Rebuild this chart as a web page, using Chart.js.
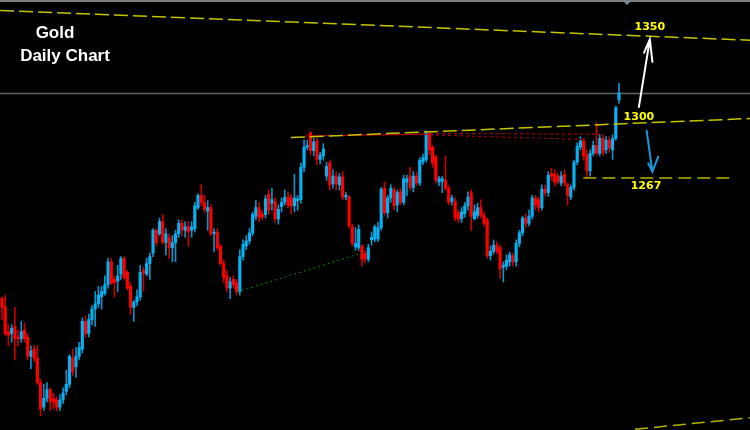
<!DOCTYPE html>
<html><head><meta charset="utf-8">
<script src="https://cdn.jsdelivr.net/npm/chart.js@4.4.0/dist/chart.umd.min.js"></script>
<style>html,body{margin:0;padding:0;background:#000;}canvas{display:block;}</style>
</head><body>
<canvas id="c" width="750" height="430"></canvas>
<script>
// Daily gold candles (price, USD/oz), oldest first
const opens = [
1198,1193,1179,1178,1182,1176,1175,1180,1176,1165,
1169,1164,1150,1136,1141,1146,1141,1140,1136,1140,
1145,1149,1164,1159,1165,1169,1185,1178,1186,1192,
1195,1199,1201,1206,1219,1209,1208,1212,1221,1213,
1205,1193,1196,1199,1214,1212,1218,1224,1237,1235,
1242,1230,1233,1227,1230,1235,1241,1237,1239,1237,
1238,1250,1257,1253,1248,1250,1235,1236,1228,1218,
1211,1204,1209,1207,1202,1222,1228,1231,1235.5,1245,
1250,1246.5,1246,1257.5,1252.5,1253.5,1243.5,1250.5,1253,1256,
1255.5,1251,1254,1254.5,1273,1284.5,1292.5,1282.5,1288,1277.5,
1279.5,1268,1275.5,1263.5,1268,1263,1267.5,1256,1256,1239,
1227.5,1227,1228,1224,1220.5,1231.5,1232,1232,1238.5,1261,
1247,1255.5,1260,1251.5,1259,1253,1264.5,1268,1261.5,1268,
1264,1276,1277.5,1292,1284.5,1279,1264.5,1265,1265.5,1261,
1253.5,1253.5,1247,1243.5,1246.5,1251,1258.5,1243.5,1245.5,1250,
1245.5,1243,1222.5,1225,1228.5,1227,1216,1216.5,1219,1222.5,
1219,1229.5,1235.5,1244,1241,1245,1255.5,1254.5,1250,1260.5,
1258.5,1269.5,1269,1268,1264,1269,1263,1256,1261.5,1276,
1284.5,1288,1280,1271,1281,1285.5,1281,1289.5,1283,1288.5,
1283,1289.5,1311.5];
const highs = [
1199,1200,1183,1183,1193,1180,1185,1184,1178,1171,
1171,1171,1152,1149,1150,1147,1144,1142,1143,1147,
1157,1166,1169,1170,1173,1187,1188,1189,1194,1202,
1205,1205,1211,1221,1221,1211,1217,1222,1222,1214,
1207,1197,1203,1217,1216,1221,1224,1238,1238,1244,
1246,1238,1235,1234,1237,1243,1243,1242,1242,1242,
1253,1258,1263,1257,1254,1251.5,1238,1238,1229,1220,
1214,1210,1211,1209,1226,1231.5,1234,1238,1247.5,1254,
1253,1248.5,1257,1260,1261,1255.5,1251.5,1255.5,1260,1259,
1257.5,1269,1257,1275.5,1288.5,1288.5,1293.5,1289.5,1289.5,1281.5,
1286.5,1276,1277,1271.5,1270.5,1269.5,1270.5,1258.5,1257,1240.5,
1238.5,1240,1229,1225.5,1229,1236,1240,1241.5,1261.5,1264.5,
1257,1263,1261.5,1260,1261,1268.5,1268.5,1273,1270.5,1270.5,
1278.5,1280.5,1294,1293.5,1285.5,1280,1268,1268,1279.5,1262.5,
1257,1255.5,1248.5,1250,1253,1259,1260,1251.5,1252.5,1254.5,
1247.5,1244,1228,1231.5,1230.5,1228.5,1219,1223,1224.5,1224,
1231.5,1237,1245,1246.5,1248.5,1257,1257,1256,1263,1263,
1270.5,1272.5,1271.5,1269.5,1270.5,1271.5,1264,1263,1277,1287,
1290.5,1289.5,1283,1283,1288,1298.5,1291.5,1291.5,1290.5,1290.5,
1291.5,1308,1321];
const lows = [
1186,1177,1171,1173,1163,1171,1173,1173,1163,1158,
1162,1149,1131,1134,1139,1134,1135,1134,1134,1138,
1143,1147,1154,1153,1163,1167,1176,1176,1183,1182,
1193,1192,1200,1204,1206,1199,1202,1209,1209,1203,
1189,1185,1194,1197,1202,1211,1209,1222,1228,1234,
1229,1223,1221,1219,1219,1233,1234,1233,1228,1233,
1236,1249,1251,1247,1237,1234,1225,1226,1217,1207,
1202,1198,1204,1200,1200,1220,1226,1229,1234,1243,
1242,1243,1244,1246,1248.5,1241.5,1240.5,1247.5,1251.5,1250,
1246.5,1247.5,1248.5,1252.5,1270.5,1283,1280,1279.5,1274.5,1275,
1277,1265.5,1260,1261,1260,1260,1254.5,1254.5,1238.5,1228,
1225.5,1225.5,1216.5,1218.5,1219,1228.5,1230.5,1230.5,1237,1245.5,
1244,1253,1248.5,1247.5,1251.5,1251.5,1257,1260,1259,1262.5,
1262.5,1274.5,1276,1280,1273,1264,1262.5,1258.5,1260,1251.5,
1251.5,1242.5,1241.5,1241.5,1244.5,1248.5,1237,1243,1244,1244,
1239.5,1221,1220,1223.5,1223.5,1209.5,1207.5,1214.5,1216.5,1216.5,
1216.5,1227.5,1234,1238.5,1239.5,1243.5,1248.5,1247.5,1248.5,1256.5,
1256.5,1265.5,1262.5,1263.5,1262.5,1262.5,1251.5,1254.5,1260,1274.5,
1283,1277,1267,1268,1279.5,1280,1279.5,1280,1281,1281.5,
1277.5,1288.5,1309.5];
const closes = [
1193,1178,1177,1181,1175,1175,1179,1175,1165,1168,
1164,1150,1135,1141,1146,1139,1139,1136,1140,1144,
1149,1165,1156,1165,1170,1185,1178,1186,1192,1195,
1200,1202,1206,1219,1207,1207,1211,1221,1210,1204,
1193,1196,1199,1213,1212.5,1218,1222,1237,1230,1242,
1230,1235,1227,1230,1235,1241,1237,1239,1236,1239,
1251,1257,1253,1249,1250,1235,1236,1227,1218,1210,
1204,1207.5,1206,1202,1222,1229,1231,1235.5,1246,1250,
1244.5,1244.5,1255,1248.5,1254.5,1243.5,1249,1253,1256,1251.5,
1251,1255.5,1255,1273,1284.5,1285.5,1282.5,1287.5,1277.5,1280,
1283.5,1273.5,1263,1268,1263.5,1267.5,1256,1257,1239.5,1229.5,
1229.5,1237.5,1220.5,1220.5,1227,1233,1239,1238.5,1260.5,1247,
1255.5,1261,1251,1258.5,1253,1266.5,1266.5,1261.5,1268,1264,
1277,1278.5,1293,1283,1275.5,1265.5,1266.5,1266.5,1261,1253,
1255.5,1244,1243.5,1247.5,1251,1256,1245,1247.5,1250,1245.5,
1241,1222.5,1225,1228.5,1225,1215,1217,1220,1223,1219,
1229.5,1235.5,1244,1241,1245,1255.5,1251.5,1250,1260.5,1258.5,
1268.5,1268,1264.5,1265,1268,1264,1257,1261.5,1276,1285,
1288,1279.5,1271,1281,1285.5,1281,1289.5,1281.5,1288.5,1284,
1289.5,1307,1315.5];

const currentPrice = 1315.6;

// Drawn studies: [bar index, price] anchor pairs
const upperChannel = [[-0.6, 1362.6], [232.8, 1345.6]];
const midLine      = [[89.9, 1290.0], [232.8, 1300.9]];
const supportLine  = [[180.9, 1266.9], [227.5, 1266.9]];
const lowerChannel = [[197.0, 1123.3], [232.8, 1129.9]];
const redTop       = [[94.3, 1290.9], [132.5, 1292.0]];
const redDot1      = [[133.2, 1292.4], [186.1, 1291.9]];
const redDot2      = [[133.2, 1291.5], [180.5, 1288.9]];
const greenDot     = [[73.1, 1201.7], [113.0, 1224.6]];
const upArrow      = [[198.2, 1307.5], [201.6, 1346.1], [199.8, 1338.5], [202.4, 1333.3]];
const downArrow    = [[200.6, 1293.9], [202.4, 1270.5], [201.1, 1275.3], [204.2, 1279.1]];
const levelLabels  = ['1350', '1300', '1267'];
const levelLabelAt = [[201.6, 1352.9], [198.2, 1301.7], [200.4, 1262.0]];
const titleLines   = ['Gold', 'Daily Chart'];

const BLUE = '#06b2f2', RED = '#ff0000';
const BLUE_W = '#0a94cc', RED_W = '#cc0000';

const bull = opens.map((o, i) => closes[i] >= o);
const wickData = opens.map((o, i) => ({x: i, y: [lows[i], highs[i]]}));
const bodyData = opens.map((o, i) => ({x: i, y: [Math.min(o, closes[i]), Math.max(o, closes[i])]}));

const annot = {
  id: 'annot',
  beforeDraw(chart) {
    const c = chart.ctx;
    c.save(); c.fillStyle = '#000'; c.fillRect(0, 0, chart.width, chart.height); c.restore();
  },
  beforeDatasetsDraw(chart) {
    const c = chart.ctx, y = chart.scales.y;
    const py = Math.round(y.getPixelForValue(currentPrice)) + 0.5;
    c.save(); c.strokeStyle = '#5c6670'; c.lineWidth = 1.3;
    c.beginPath(); c.moveTo(0, py); c.lineTo(chart.width, py); c.stroke(); c.restore();
  },
  afterDatasetsDraw(chart) {
    const c = chart.ctx, X = chart.scales.x, Y = chart.scales.y;
    const P = p => [X.getPixelForValue(p[0]), Y.getPixelForValue(p[1])];
    function seg(pts, color, width, dash) {
      const a = P(pts[0]), b = P(pts[1]);
      c.save(); c.strokeStyle = color; c.lineWidth = width; c.setLineDash(dash);
      c.beginPath(); c.moveTo(a[0], a[1]); c.lineTo(b[0], b[1]); c.stroke(); c.restore();
    }
    seg(greenDot, '#0a8a0a', 1, [2, 3]);
    seg(redTop, '#c00000', 1.2, []);
    seg(redDot1, '#c00000', 1, [3, 3]);
    seg(redDot2, '#b00000', 1, [3, 3]);
    seg(upperChannel, '#c4c400', 1.5, [14, 5]);
    seg(midLine, '#c4c400', 1.5, [14, 5]);
    seg(supportLine, '#b4b400', 1.5, [13, 6]);
    seg(lowerChannel, '#b4b400', 1.5, [13, 6]);

    function arrow(pts, color) {
      const t = P(pts[0]), h = P(pts[1]), a1 = P(pts[2]), a2 = P(pts[3]);
      c.save(); c.strokeStyle = color; c.lineWidth = 2; c.lineCap = 'round';
      c.beginPath(); c.moveTo(t[0], t[1]); c.lineTo(h[0], h[1]);
      c.moveTo(a1[0], a1[1]); c.lineTo(h[0], h[1]); c.lineTo(a2[0], a2[1]);
      c.stroke(); c.restore();
    }
    arrow(upArrow, '#ffffff');
    arrow(downArrow, '#1c98dc');

    c.save();
    c.font = 'bold 11px "DejaVu Sans", Verdana, sans-serif';
    c.fillStyle = '#ffff00'; c.textAlign = 'center'; c.textBaseline = 'middle';
    levelLabels.forEach((t, i) => { const p = P(levelLabelAt[i]); c.fillText(t, p[0], p[1]); });
    c.font = 'bold 17px "Liberation Sans", Arial, sans-serif';
    c.fillStyle = '#ffffff';
    c.fillText(titleLines[0], 55, 33);
    c.fillText(titleLines[1], 65, 56);
    c.restore();
  },
  afterDraw(chart) {
    const c = chart.ctx;
    c.save();
    c.fillStyle = '#808080'; c.fillRect(0, 0, chart.width, 2);
    c.fillStyle = '#7d8896';
    c.beginPath(); c.moveTo(623, 1); c.lineTo(631, 1); c.lineTo(627, 5); c.closePath(); c.fill();
    c.restore();
  }
};

new Chart(document.getElementById('c'), {
  type: 'bar',
  data: {
    datasets: [
      { label: 'body', data: bodyData, backgroundColor: bull.map(b => b ? BLUE : RED),
        barThickness: 2.5, grouped: false, minBarLength: 1.5, order: 0, borderWidth: 0 },
      { label: 'wick', data: wickData, backgroundColor: bull.map(b => b ? BLUE_W : RED_W),
        barThickness: 1, grouped: false, minBarLength: 1, order: 1, borderWidth: 0 }
    ]
  },
  options: {
    responsive: false, animation: false, devicePixelRatio: 1,
    layout: { padding: 0 },
    scales: {
      x: { type: 'linear', min: -0.622, max: 232.77, offset: false, display: false },
      y: { type: 'linear', min: 1122.9, max: 1368.6, display: false }
    },
    plugins: { legend: { display: false }, tooltip: { enabled: false } }
  },
  plugins: [annot]
});
</script>
</body></html>
